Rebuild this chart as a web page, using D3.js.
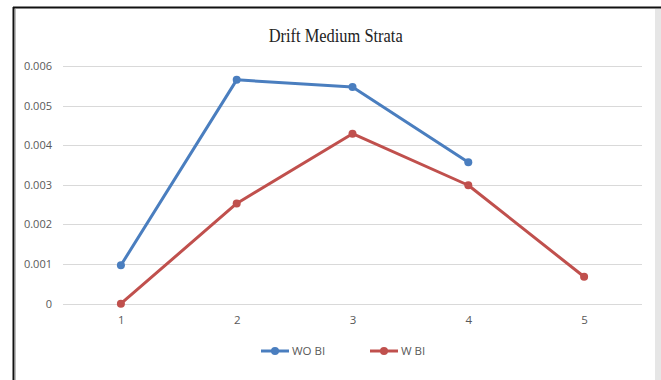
<!DOCTYPE html>
<html>
<head>
<meta charset="utf-8">
<script src="https://cdn.jsdelivr.net/npm/d3@7"></script>
<style>
  html, body { margin: 0; padding: 0; background: #fff; }
  svg { display: block; }
</style>
</head>
<body>
<svg id="chart" width="661" height="380"></svg>
<script>
// Drift values per storey for the two configurations
const storeys = [1, 2, 3, 4, 5];
const woBI = [0.00097, 0.00565, 0.00547, 0.00357, null];
const wBI  = [0.0, 0.00253, 0.00429, 0.00299, 0.00068];
const yTicks = [0, 0.001, 0.002, 0.003, 0.004, 0.005, 0.006];
const yTickLabels = ["0", "0.001", "0.002", "0.003", "0.004", "0.005", "0.006"];
const seriesNames = ["WO BI", "W BI"];
const seriesColors = ["#4a7ebf", "#c0504d"];

const svg = d3.select("#chart");

// Frame: dark edge on the left and top, light strip on the right
svg.append("rect").attr("x", 655).attr("y", 9).attr("width", 6).attr("height", 371).attr("fill", "#e6e6e6");
svg.append("line").attr("x1", 15.5).attr("x2", 15.5).attr("y1", 9).attr("y2", 380)
  .attr("stroke", "#bdbdbd").attr("stroke-width", 1);
svg.append("line").attr("x1", 13.5).attr("x2", 13.5).attr("y1", 7).attr("y2", 380)
  .attr("stroke", "#111").attr("stroke-width", 2);
svg.append("line").attr("x1", 13).attr("x2", 661).attr("y1", 7.5).attr("y2", 7.5)
  .attr("stroke", "#111").attr("stroke-width", 2);

const x = d3.scalePoint().domain(storeys).range([63, 642]).padding(0.5);
const y = d3.scaleLinear().domain([0, 0.006]).range([303.7, 66]);

// Horizontal gridlines
svg.append("g").selectAll("line").data(yTicks).join("line")
  .attr("x1", 63).attr("x2", 642)
  .attr("y1", d => Math.round(y(d)) + 0.5).attr("y2", d => Math.round(y(d)) + 0.5)
  .attr("stroke", "#d9d9d9").attr("stroke-width", 1);

// Y axis labels
const yAxis = d3.axisLeft(y).tickValues(yTicks)
  .tickFormat((d, i) => yTickLabels[i]).tickSize(0).tickPadding(0);
const gy = svg.append("g").attr("transform", "translate(52,0)").call(yAxis);
gy.select(".domain").remove();
gy.selectAll("text").attr("font-family", "'Open Sans', 'Liberation Sans', sans-serif")
  .attr("font-size", 11).attr("fill", "#595959");

// X axis labels
const xAxis = d3.axisBottom(x).tickSize(0).tickPadding(0);
const gx = svg.append("g").attr("transform", "translate(0,316)").call(xAxis);
gx.select(".domain").remove();
gx.selectAll("text").attr("font-family", "'Open Sans', 'Liberation Sans', sans-serif")
  .attr("font-size", 11.5).attr("fill", "#595959");

// Title
svg.append("text").attr("x", 335.7).attr("y", 41.5).attr("text-anchor", "middle")
  .attr("font-family", "'Liberation Serif', 'Times New Roman', serif")
  .attr("font-size", 18).attr("fill", "#222")
  .attr("textLength", 134).attr("lengthAdjust", "spacingAndGlyphs")
  .text("Drift Medium Strata");

// Series lines and markers
const series = [woBI, wBI];
const line = d3.line()
  .defined(d => d.v !== null)
  .x(d => x(d.s)).y(d => y(d.v));

series.forEach((vals, i) => {
  const pts = storeys.map((s, j) => ({ s, v: vals[j] }));
  svg.append("path").datum(pts)
    .attr("d", line).attr("fill", "none")
    .attr("stroke", seriesColors[i]).attr("stroke-width", 3)
    .attr("stroke-linejoin", "round").attr("stroke-linecap", "round");
  svg.append("g").selectAll("circle").data(pts.filter(d => d.v !== null)).join("circle")
    .attr("cx", d => x(d.s)).attr("cy", d => y(d.v)).attr("r", 4)
    .attr("fill", seriesColors[i]);
});

// Legend
const legendX = [261, 370];
seriesNames.forEach((name, i) => {
  const g = svg.append("g").attr("transform", `translate(${legendX[i]},351)`);
  g.append("line").attr("x1", 0).attr("x2", 28).attr("y1", 0).attr("y2", 0)
    .attr("stroke", seriesColors[i]).attr("stroke-width", 3);
  g.append("circle").attr("cx", 14).attr("cy", 0).attr("r", 4).attr("fill", seriesColors[i]);
  g.append("text").attr("x", 31).attr("y", 4)
    .attr("font-family", "'Open Sans', 'Liberation Sans', sans-serif")
    .attr("font-size", 11.5).attr("fill", "#595959")
    .text(name);
});
</script>
</body>
</html>
